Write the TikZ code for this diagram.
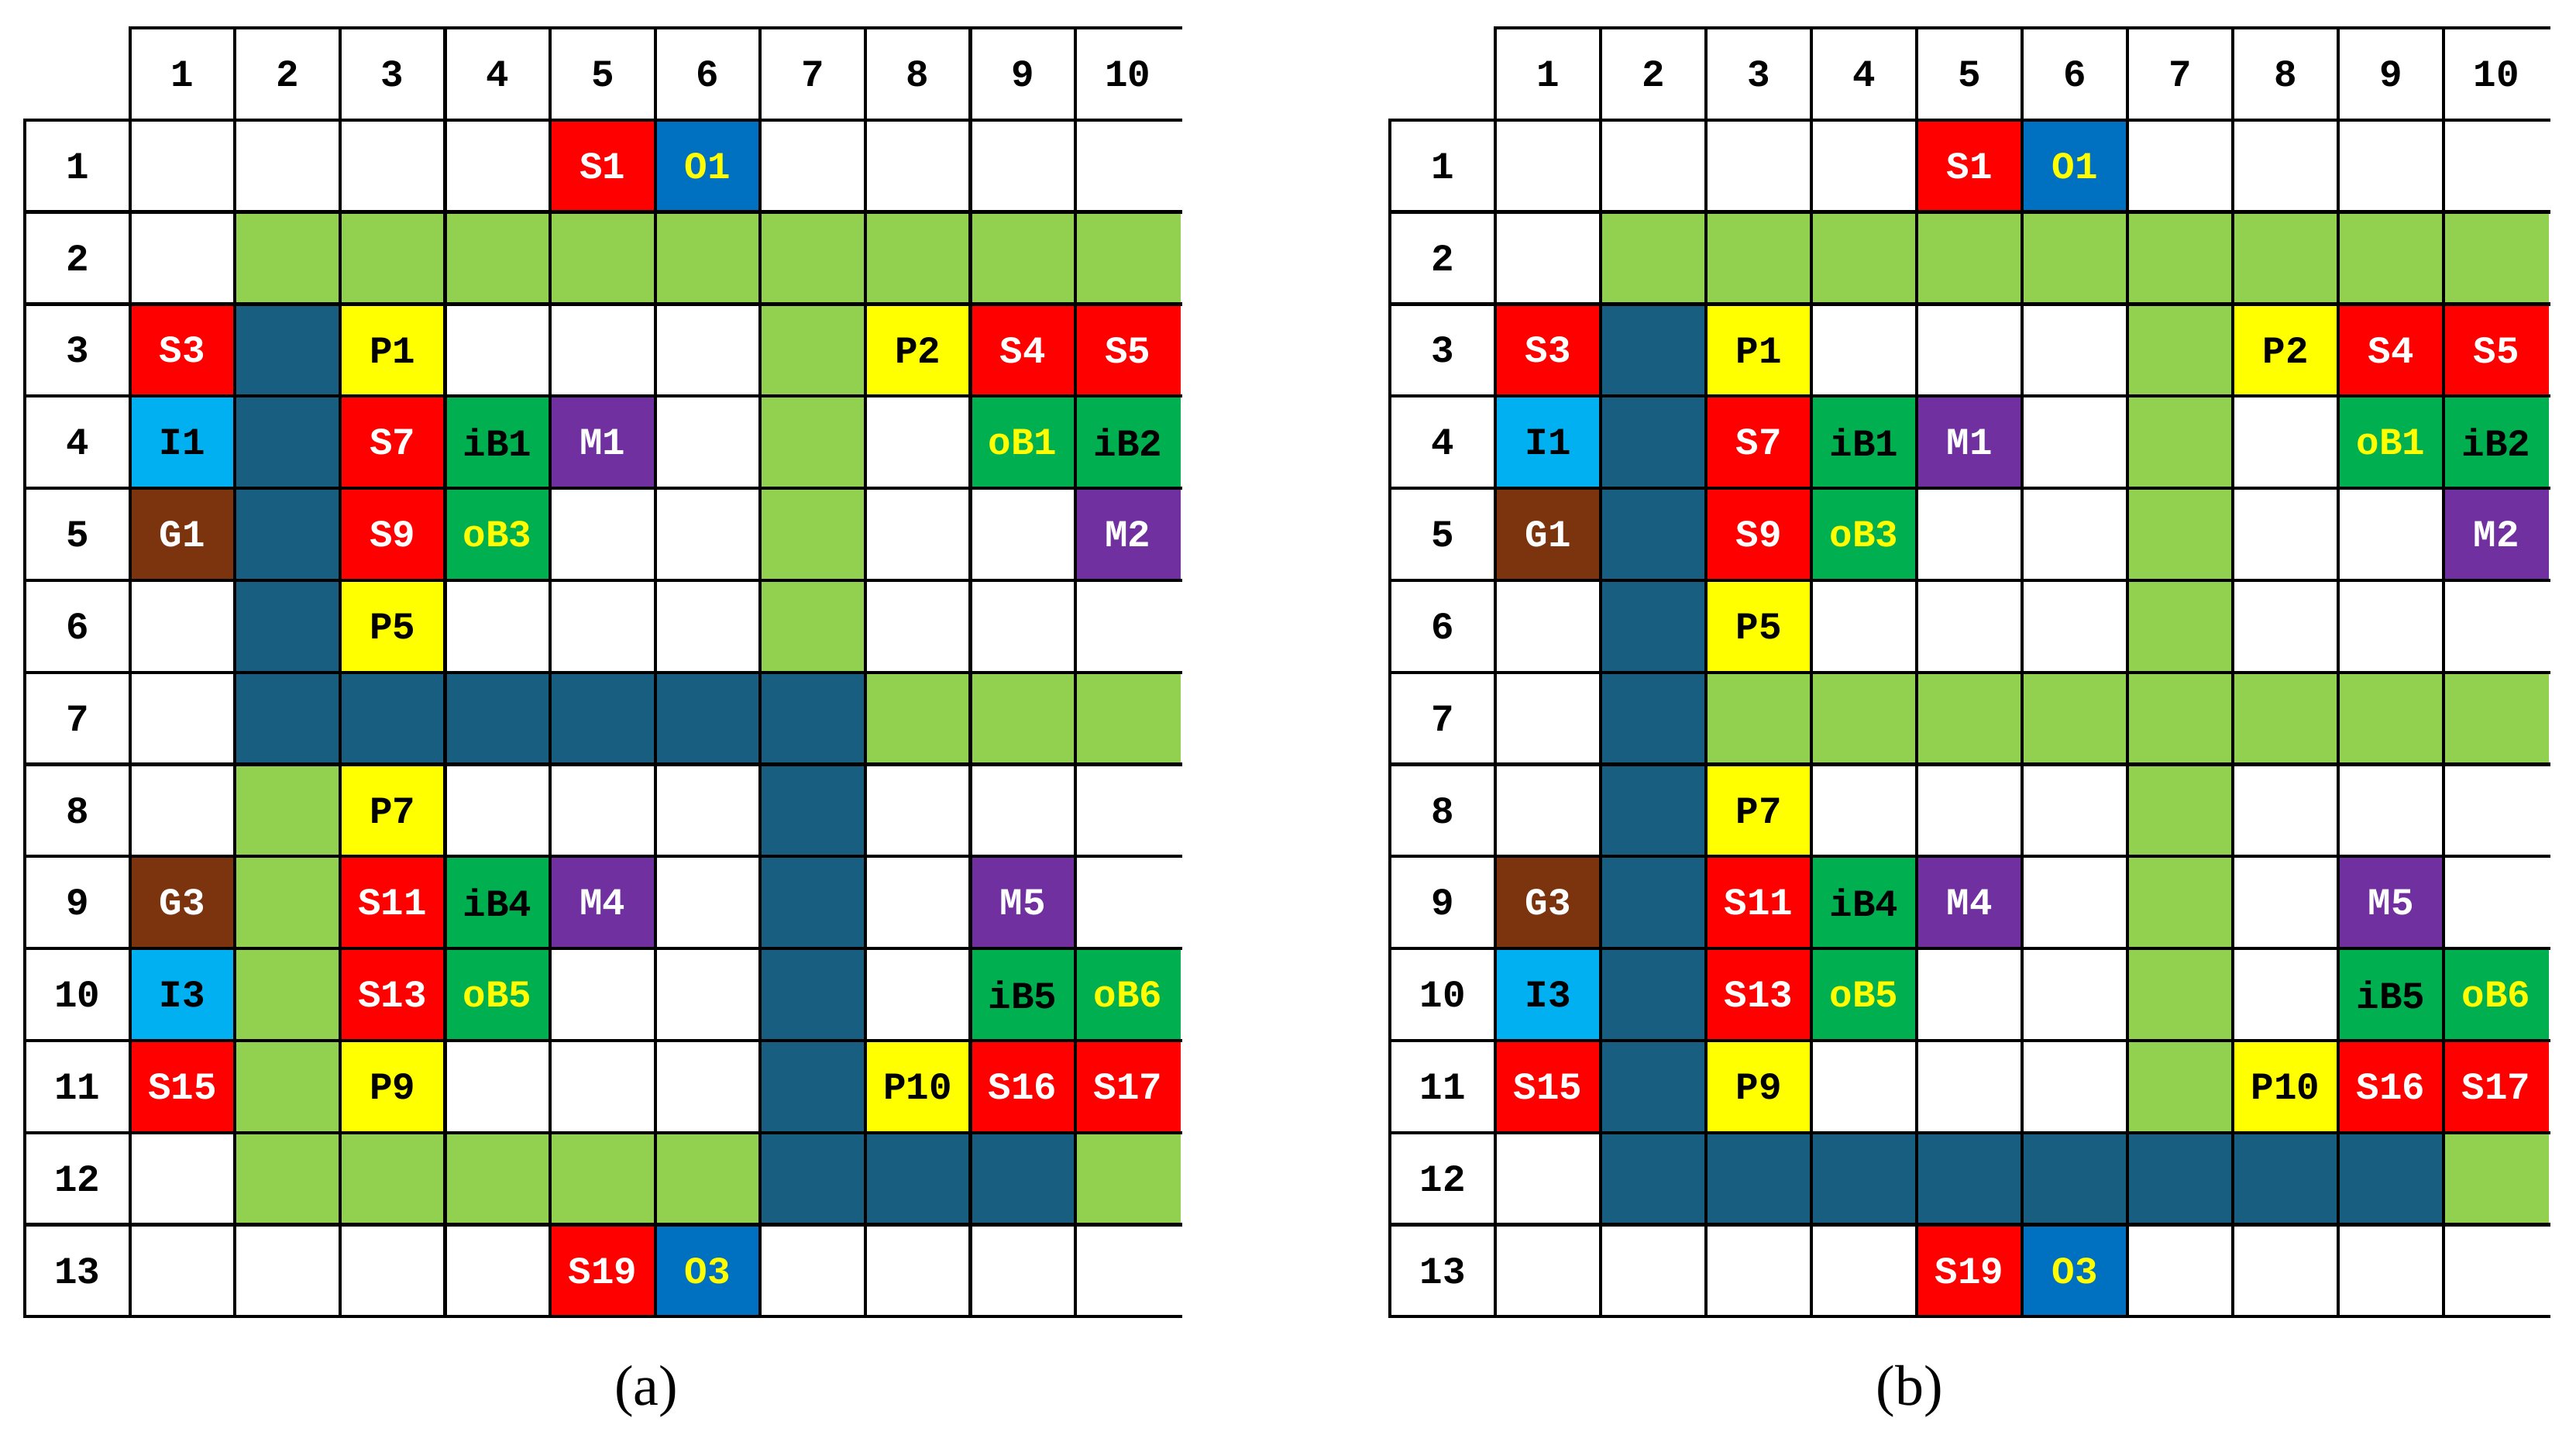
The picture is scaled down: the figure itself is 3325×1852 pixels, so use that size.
\documentclass[tikz,border=0pt]{standalone}
\usepackage{fontspec}
\setmainfont{Liberation Serif}
\newfontfamily\cellfont{Liberation Mono}
\definecolor{sred}{RGB}{255,0,0}
\definecolor{oblue}{RGB}{0,112,192}
\definecolor{ilblue}{RGB}{0,176,240}
\definecolor{pyel}{RGB}{255,255,0}
\definecolor{bgreen}{RGB}{0,176,80}
\definecolor{mpurp}{RGB}{112,48,160}
\definecolor{gbrown}{RGB}{123,52,14}
\definecolor{lgreen}{RGB}{146,208,80}
\definecolor{dpath}{RGB}{24,94,128}
\def\XA{32}\def\WA{135.6}
\def\XB{1794}\def\WB{136}
\def\RH{118.8}
\tikzset{
  cellA/.style={inner sep=0pt, minimum width=1.362cm, minimum height=1.194cm},
  cellB/.style={inner sep=0pt, minimum width=1.366cm, minimum height=1.194cm},
  celltxt/.style={font=\cellfont\fontsize{14}{16}\bfseries},
  gridline/.style={line width=0.042cm, line cap=rect},
  caption/.style={font=\fontsize{21}{24}\selectfont}
}
% #1 grid (A/B), #2 col, #3 row, #4 fill, #5 text colour, #6 text
\newcommand\cellnode[6]{%
  \pgfmathsetmacro\cx{\csname X#1\endcsname+(#2+0.5)*\csname W#1\endcsname}%
  \pgfmathsetmacro\cy{36+(#3+0.5)*\RH}%
  \node[cell#1, celltxt, fill=#4, text=#5] (#1#2-#3) at (\cx,\cy) {#6};}
% common labelled cells
\newcommand\labelled[1]{%
  \foreach \c/\r/\f/\t/\s in {5/1/sred/white/S1, 6/1/oblue/pyel/O1,
    1/3/sred/white/S3, 3/3/pyel/black/P1, 8/3/pyel/black/P2, 9/3/sred/white/S4, 10/3/sred/white/S5,
    1/4/ilblue/black/I1, 3/4/sred/white/S7, 4/4/bgreen/black/iB1, 5/4/mpurp/white/M1, 9/4/bgreen/pyel/oB1, 10/4/bgreen/black/iB2,
    1/5/gbrown/white/G1, 3/5/sred/white/S9, 4/5/bgreen/pyel/oB3, 10/5/mpurp/white/M2,
    3/6/pyel/black/P5, 3/8/pyel/black/P7,
    1/9/gbrown/white/G3, 3/9/sred/white/S11, 4/9/bgreen/black/iB4, 5/9/mpurp/white/M4, 9/9/mpurp/white/M5,
    1/10/ilblue/black/I3, 3/10/sred/white/S13, 4/10/bgreen/pyel/oB5, 9/10/bgreen/black/iB5, 10/10/bgreen/pyel/oB6,
    1/11/sred/white/S15, 3/11/pyel/black/P9, 8/11/pyel/black/P10, 9/11/sred/white/S16, 10/11/sred/white/S17,
    5/13/sred/white/S19, 6/13/oblue/pyel/O3}
    {\cellnode{#1}{\c}{\r}{\f}{\t}{\s}}%
  \foreach \n in {1,...,10} {\cellnode{#1}{\n}{0}{white}{black}{\n}}%
  \foreach \n in {1,...,13} {\cellnode{#1}{0}{\n}{white}{black}{\n}}%
}
\newcommand\gridlines[1]{%
  \pgfmathsetmacro\gx{\csname X#1\endcsname}%
  \pgfmathsetmacro\gw{\csname W#1\endcsname}%
  \draw[gridline] (\gx+\gw,36) -- (\gx+11*\gw,36);
  \foreach \k in {1,...,14} {\draw[gridline] (\gx,36+\k*\RH) -- (\gx+11*\gw,36+\k*\RH);}
  \draw[gridline] (\gx,36+\RH) -- (\gx,36+14*\RH);
  \foreach \k in {1,...,10} {\draw[gridline] (\gx+\k*\gw,36) -- (\gx+\k*\gw,36+14*\RH);}
}
\begin{document}
\begin{tikzpicture}[x=0.01cm, y=-0.01cm]
\useasboundingbox[fill=white] (0,0) rectangle (3325,1852);
% ---- grid (a) paths
\foreach \c/\r in {2/2,3/2,4/2,5/2,6/2,7/2,8/2,9/2,10/2, 7/3,7/4,7/5,7/6, 8/7,9/7,10/7,
   2/8,2/9,2/10,2/11, 2/12,3/12,4/12,5/12,6/12,10/12}
  {\cellnode{A}{\c}{\r}{lgreen}{black}{}}
\foreach \c/\r in {2/3,2/4,2/5,2/6, 2/7,3/7,4/7,5/7,6/7,7/7, 7/8,7/9,7/10,7/11, 7/12,8/12,9/12}
  {\cellnode{A}{\c}{\r}{dpath}{black}{}}
\labelled{A}
\gridlines{A}
% ---- grid (b) paths
\foreach \c/\r in {2/2,3/2,4/2,5/2,6/2,7/2,8/2,9/2,10/2, 7/3,7/4,7/5,7/6,
   3/7,4/7,5/7,6/7,7/7,8/7,9/7,10/7, 7/8,7/9,7/10,7/11, 10/12}
  {\cellnode{B}{\c}{\r}{lgreen}{black}{}}
\foreach \c/\r in {2/3,2/4,2/5,2/6,2/7,2/8,2/9,2/10,2/11,
   2/12,3/12,4/12,5/12,6/12,7/12,8/12,9/12}
  {\cellnode{B}{\c}{\r}{dpath}{black}{}}
\labelled{B}
\gridlines{B}
% ---- captions
\node[caption] (capa) at (834,1796) {(a)};
\node[caption] (capb) at (2465,1796) {(b)};
\end{tikzpicture}
\end{document}
